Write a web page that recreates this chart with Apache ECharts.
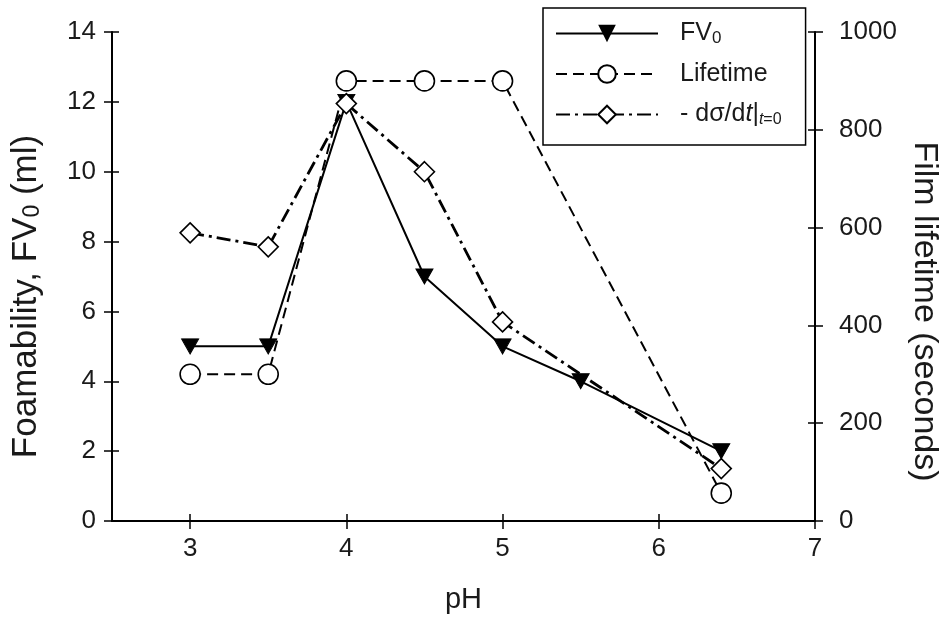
<!DOCTYPE html>
<html><head><meta charset="utf-8">
<script src="https://cdn.jsdelivr.net/npm/echarts@6/dist/echarts.min.js"></script>
<style>html,body{margin:0;padding:0;background:#fff}#c{width:941px;height:619px}</style>
</head><body><div id="c"></div>
<script>
// ---- data ----
const pHFV = [3, 3.5, 4, 4.5, 5, 5.5, 6.4];
const fv0 = [5, 5, 12, 7, 5, 4, 2];
const pHLife = [3, 3.5, 4, 4.5, 5, 6.4];
const lifetime = [300, 300, 900, 900, 900, 57];
const pHDsdt = [3, 3.5, 4, 4.5, 5, 6.4];
const dsdt = [8.25, 7.85, 11.95, 10.0, 5.7, 1.5];
const xTicks = [3, 4, 5, 6, 7];
const seriesNames = ['FV0', 'Lifetime', 'dsdt'];

const FONT = '"Liberation Sans", Arial, sans-serif';
const INK = '#1a1a1a';
const pair = (xs, ys) => xs.map((x, i) => [x, ys[i]]);
const chart = echarts.init(document.getElementById('c'), null, {renderer: 'canvas'});

const GRID = {left: 112, right: 126, top: 32, bottom: 98, containLabel: false, outerBoundsMode: 'none'};
const axisLine = {show: true, lineStyle: {color: '#000', width: 2}};
const tickOut = {show: true, inside: false, length: 8, lineStyle: {color: '#000', width: 1.5}};
const tickIn = {show: true, inside: true, length: 7, lineStyle: {color: '#000', width: 1.5}};
const lbl = {color: INK, fontSize: 26, fontFamily: FONT};
const legRich = {
  sub: {fontSize: 17, fontFamily: FONT, color: INK, verticalAlign: 'bottom', lineHeight: 12},
  i: {fontSize: 25, fontFamily: FONT, color: INK, fontStyle: 'italic'},
  isub: {fontSize: 16, fontFamily: FONT, color: INK, fontStyle: 'italic', verticalAlign: 'bottom', lineHeight: 12},
  nsub: {fontSize: 16, fontFamily: FONT, color: INK, verticalAlign: 'bottom', lineHeight: 12}
};

const option = {
  backgroundColor: '#fff',
  animation: false,
  grid: [Object.assign({}, GRID), Object.assign({}, GRID)],
  legend: {
    orient: 'vertical', left: 543, top: 8,
    padding: [12, 24, 17, 12],
    itemWidth: 102, itemHeight: 22, itemGap: 13.5,
    borderColor: '#000', borderWidth: 1.5, backgroundColor: '#fff',
    data: seriesNames,
    textStyle: {fontSize: 25, lineHeight: 27, fontFamily: FONT, color: INK, padding: [0, 0, 0, 17], rich: legRich},
    formatter: function (n) {
      if (n === 'FV0') return 'FV{sub|0}';
      if (n === 'Lifetime') return 'Lifetime';
      return '- dσ/d{i|t}|{isub|t}{nsub|=0}';
    }
  },
  xAxis: [
    {gridIndex: 0, type: 'value', position: 'bottom', min: 2.5, max: 7, axisLine,
     axisTick: Object.assign({customValues: xTicks}, tickOut),
     axisLabel: Object.assign({margin: 15, customValues: xTicks}, lbl),
     splitLine: {show: false},
     name: 'pH', nameLocation: 'middle', nameGap: 64,
     nameTextStyle: {fontSize: 29, fontFamily: FONT, color: INK}},
    {gridIndex: 0, type: 'value', position: 'top', min: 2.5, max: 7, axisLine,
     axisTick: {show: false}, axisLabel: {show: false}, splitLine: {show: false}},
    {gridIndex: 1, type: 'value', position: 'bottom', min: 2.5, max: 7, axisLine: {show: false},
     axisTick: Object.assign({customValues: xTicks}, tickIn),
     axisLabel: {show: false}, splitLine: {show: false}}
  ],
  yAxis: [
    {gridIndex: 0, type: 'value', position: 'left', min: 0, max: 14, interval: 2, axisLine,
     axisTick: tickOut,
     axisLabel: Object.assign({margin: 16}, lbl), splitLine: {show: false},
     name: 'Foamability, FV{sub|0} (ml)', nameLocation: 'middle', nameGap: 68, nameRotate: 90,
     nameTextStyle: {fontSize: 35, fontFamily: FONT, color: INK, padding: [0, 40, 0, 0],
       rich: {sub: {fontSize: 23, fontFamily: FONT, color: INK, verticalAlign: 'bottom', lineHeight: 17}}}},
    {gridIndex: 0, type: 'value', position: 'right', min: 0, max: 1000, interval: 200, axisLine,
     axisTick: tickOut,
     axisLabel: Object.assign({margin: 24, formatter: v => String(v)}, lbl), splitLine: {show: false},
     name: 'Film lifetime (seconds)', nameLocation: 'middle', nameGap: 87, nameRotate: -90,
     nameTextStyle: {fontSize: 34, fontFamily: FONT, color: INK, padding: [0, 0, 0, 70]}},
    {gridIndex: 1, type: 'value', position: 'left', min: 0, max: 14, interval: 2, axisLine: {show: false},
     axisTick: tickIn, axisLabel: {show: false}, splitLine: {show: false}},
    {gridIndex: 1, type: 'value', position: 'right', min: 0, max: 1000, interval: 200, axisLine: {show: false},
     axisTick: tickIn, axisLabel: {show: false}, splitLine: {show: false}}
  ],
  series: [
    {name: 'FV0', type: 'line', xAxisIndex: 0, yAxisIndex: 0, data: pair(pHFV, fv0),
     symbol: 'path://M0,0 L10,0 L5,9 Z', symbolSize: [17, 15], showAllSymbol: true,
     itemStyle: {color: '#000', borderColor: '#000'},
     lineStyle: {color: '#000', width: 2, type: 'solid'}, z: 3},
    {name: 'Lifetime', type: 'line', xAxisIndex: 0, yAxisIndex: 1, data: pair(pHLife, lifetime),
     symbol: 'circle', symbolSize: 20, showAllSymbol: true,
     itemStyle: {color: '#fff', borderColor: '#000', borderWidth: 1.6},
     lineStyle: {color: '#000', width: 2, type: [11, 6]}, z: 4},
    {name: 'dsdt', type: 'line', xAxisIndex: 0, yAxisIndex: 0, data: pair(pHDsdt, dsdt),
     symbol: 'diamond', symbolSize: [20, 20], showAllSymbol: true,
     itemStyle: {color: '#fff', borderColor: '#000', borderWidth: 1.6},
     lineStyle: {color: '#000', width: 2.8, type: [14, 5, 3, 5]}, z: 5}
  ]
};
chart.setOption(option);
</script>
</body></html>
